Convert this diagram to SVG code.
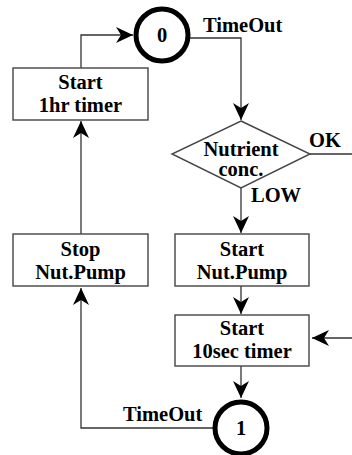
<svg xmlns="http://www.w3.org/2000/svg" width="352" height="455" viewBox="0 0 352 455">
<style>
text{font-family:"Liberation Serif","Times New Roman",serif;font-weight:bold;font-size:20.5px;fill:#000}
.c{text-anchor:middle}
.box{fill:#fff;stroke:#444;stroke-width:1.4}
.ring{fill:#fff;stroke:#000;stroke-width:5}
.ln{fill:none;stroke:#333;stroke-width:1.3}
</style>
<defs>
<marker id="ah" viewBox="0 0 18 18" refX="17" refY="9" markerWidth="18" markerHeight="18" markerUnits="userSpaceOnUse" orient="auto">
<path d="M0,1 L17,9 L0,17 L5,9 Z" fill="#000"/>
</marker>
</defs>
<rect width="352" height="455" fill="#fff"/>
<g id="connectors">
<path class="ln" d="M81,68 V35 H133" marker-end="url(#ah)"/>
<path class="ln" d="M189,38 H241 V120" marker-end="url(#ah)"/>
<path class="ln" d="M310,154 H352"/>
<path class="ln" d="M241,188 V233" marker-end="url(#ah)"/>
<path class="ln" d="M241,286 V314" marker-end="url(#ah)"/>
<path class="ln" d="M352,338 H312" marker-end="url(#ah)"/>
<path class="ln" d="M241,366 V398" marker-end="url(#ah)"/>
<path class="ln" d="M214,428 H81 V288" marker-end="url(#ah)"/>
<path class="ln" d="M81,234 V121" marker-end="url(#ah)"/>
<text x="203" y="32">TimeOut</text>
<text x="309" y="147">OK</text>
<text x="251" y="202">LOW</text>
<text x="123" y="421">TimeOut</text>
</g>
<g id="state0">
<circle class="ring" cx="162" cy="35" r="26"/>
<text class="c" x="162" y="42">0</text>
</g>
<g id="start1hr">
<rect class="box" x="13" y="68" width="135" height="52"/>
<text class="c" x="80.5" y="89">Start</text>
<text class="c" x="80.5" y="112">1hr timer</text>
</g>
<g id="nutrient">
<polygon class="box" points="241,121 310,154 241,188 172,154"/>
<text class="c" x="241" y="156">Nutrient</text>
<text class="c" x="241" y="176">conc.</text>
</g>
<g id="startpump">
<rect class="box" x="175" y="234" width="134" height="52"/>
<text class="c" x="242" y="256">Start</text>
<text class="c" x="242" y="279">Nut.Pump</text>
</g>
<g id="start10sec">
<rect class="box" x="175" y="315" width="134" height="51"/>
<text class="c" x="242" y="335">Start</text>
<text class="c" x="242" y="358">10sec timer</text>
</g>
<g id="stoppump">
<rect class="box" x="13" y="234" width="135" height="52"/>
<text class="c" x="80.5" y="256">Stop</text>
<text class="c" x="80.5" y="279">Nut.Pump</text>
</g>
<g id="state1">
<circle class="ring" cx="241" cy="428" r="26"/>
<text class="c" x="241" y="435">1</text>
</g>
</svg>
